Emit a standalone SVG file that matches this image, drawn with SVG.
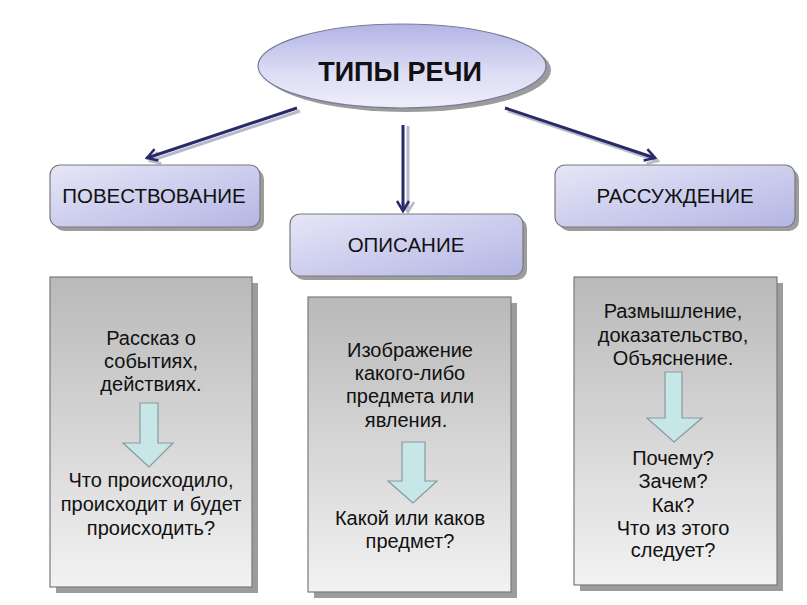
<svg xmlns="http://www.w3.org/2000/svg" width="807" height="605" viewBox="0 0 807 605">
<defs>
<linearGradient id="gEll" x1="0" y1="0" x2="0" y2="1">
<stop offset="0" stop-color="#b2b4e4"/><stop offset="0.6" stop-color="#dedef5"/><stop offset="1" stop-color="#eeeefa"/>
</linearGradient>
<linearGradient id="gTop" x1="0" y1="0" x2="1" y2="1">
<stop offset="0" stop-color="#e6e6f7"/><stop offset="1" stop-color="#b4b6e4"/>
</linearGradient>
<linearGradient id="gGray" x1="0" y1="0" x2="0" y2="1">
<stop offset="0" stop-color="#b9b9b9"/><stop offset="1" stop-color="#f2f2f2"/>
</linearGradient>
<marker id="head" markerWidth="16" markerHeight="16" refX="12" refY="8" orient="auto" markerUnits="userSpaceOnUse">
<path d="M2,2 L12,8 L2,14" fill="none" stroke="#2a2a6a" stroke-width="2.5"/>
</marker>
<marker id="headS" markerWidth="16" markerHeight="16" refX="12" refY="8" orient="auto" markerUnits="userSpaceOnUse">
<path d="M2,2 L12,8 L2,14" fill="none" stroke="#b8bac8" stroke-width="2.5"/>
</marker>
</defs>
<style>
.t{font-family:"Liberation Sans",Arial,sans-serif;fill:#111;text-anchor:middle}
.h{font-size:20.5px}
.b{font-size:20px}
.sh{fill:#9c9c9c}
.box{stroke:#7a7a7a;stroke-width:1.2}
.ln{stroke:#2a2a6a;stroke-width:3;fill:none}
.lns{stroke:#b8bac8;stroke-width:3;fill:none}
.cy{fill:#c6e6e8;stroke:#8a9a9c;stroke-width:1.2}
</style>
<rect width="807" height="605" fill="#ffffff"/>
<g id="connectors">
<line class="lns" x1="300" y1="111" x2="150" y2="161" marker-end="url(#headS)"/>
<line class="ln" x1="297" y1="108" x2="147" y2="158" marker-end="url(#head)"/>
<line class="lns" x1="408" y1="126" x2="408" y2="212" marker-end="url(#headS)"/>
<line class="ln" x1="403" y1="125" x2="403" y2="211" marker-end="url(#head)"/>
<line class="lns" x1="508" y1="111" x2="658" y2="161" marker-end="url(#headS)"/>
<line class="ln" x1="505" y1="108" x2="655" y2="158" marker-end="url(#head)"/>
</g>
<g id="root">
<ellipse class="sh" cx="407" cy="70" rx="144" ry="42"/>
<ellipse cx="402" cy="66" rx="144" ry="42" fill="url(#gEll)" stroke="#7a7a9a" stroke-width="1.2"/>
<text class="t" x="400" y="81" font-size="27" font-weight="bold">ТИПЫ РЕЧИ</text>
</g>
<g id="povestvovanie">
<rect class="sh" x="54" y="169" width="210" height="62" rx="10"/>
<rect class="box" x="50" y="165" width="210" height="62" rx="10" fill="url(#gTop)"/>
<text class="t h" x="154" y="203">ПОВЕСТВОВАНИЕ</text>
</g>
<g id="opisanie">
<rect class="sh" x="294" y="218" width="233" height="62" rx="10"/>
<rect class="box" x="290" y="214" width="233" height="62" rx="10" fill="url(#gTop)"/>
<text class="t h" x="406" y="252">ОПИСАНИЕ</text>
</g>
<g id="rassuzhdenie">
<rect class="sh" x="559" y="169" width="240" height="62" rx="10"/>
<rect class="box" x="555" y="165" width="240" height="62" rx="10" fill="url(#gTop)"/>
<text class="t h" x="675" y="203">РАССУЖДЕНИЕ</text>
</g>
<g id="box1">
<rect class="sh" x="56" y="283" width="202" height="310"/>
<rect class="box" x="50" y="277" width="202" height="310" fill="url(#gGray)"/>
<text class="t b"><tspan x="151" y="345">Рассказ о</tspan><tspan x="151" y="368">событиях,</tspan><tspan x="151" y="391">действиях.</tspan></text>
<path class="cy" d="M140,403 L158,403 L158,443 L173,443 L149,467 L123,443 L140,443 Z"/>
<text class="t b"><tspan x="151" y="487">Что происходило,</tspan><tspan x="151" y="511">происходит и будет</tspan><tspan x="151" y="535">происходить?</tspan></text>
</g>
<g id="box2">
<rect class="sh" x="314" y="303" width="203" height="295"/>
<rect class="box" x="308" y="297" width="203" height="295" fill="url(#gGray)"/>
<text class="t b"><tspan x="410" y="357">Изображение</tspan><tspan x="410" y="380">какого-либо</tspan><tspan x="410" y="403">предмета или</tspan><tspan x="406" y="427">явления.</tspan></text>
<path class="cy" d="M402,442 L425,442 L425,481 L437,481 L413,503 L388,481 L402,481 Z"/>
<text class="t b"><tspan x="410" y="525">Какой или каков</tspan><tspan x="410" y="548">предмет?</tspan></text>
</g>
<g id="box3">
<rect class="sh" x="580" y="283" width="203" height="308"/>
<rect class="box" x="574" y="277" width="203" height="308" fill="url(#gGray)"/>
<text class="t b"><tspan x="673" y="318">Размышление,</tspan><tspan x="673" y="342">доказательство,</tspan><tspan x="673" y="365">Объяснение.</tspan></text>
<path class="cy" d="M665,372 L682,372 L682,418 L702,418 L674,442 L647,418 L665,418 Z"/>
<text class="t b"><tspan x="673" y="465">Почему?</tspan><tspan x="673" y="488">Зачем?</tspan><tspan x="673" y="512">Как?</tspan><tspan x="673" y="535">Что из этого</tspan><tspan x="673" y="557">следует?</tspan></text>
</g>
</svg>
